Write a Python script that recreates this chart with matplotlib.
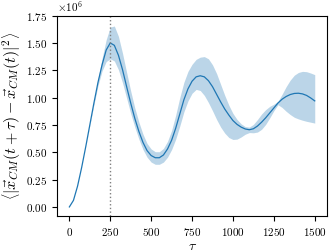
import matplotlib as mpl
mpl.use('Agg')
import matplotlib.pyplot as plt
import numpy as np

# -- Text in Computer Modern, like the LaTeX original.
mpl.rcParams.update({
    "font.family": "serif",
    "font.serif": ["cmr10"],
    "mathtext.fontset": "cm",
    "axes.formatter.use_mathtext": True,
    "axes.unicode_minus": False,
    "font.size": 8,
})

# -- Data (in units of 1e6).
tau = [0, 25, 50, 75, 100, 125, 150, 175, 200, 225, 250, 275, 300, 325, 350,
       375, 400, 425, 450, 475, 500, 525, 550, 575, 600, 625, 650, 675, 700,
       725, 750, 775, 800, 825, 850, 875, 900, 925, 950, 975, 1000, 1025,
       1050, 1075, 1100, 1125, 1150, 1175, 1200, 1225, 1250, 1275, 1300,
       1325, 1350, 1375, 1400, 1425, 1450, 1475, 1500]

msd_mean = [0.00, 0.06, 0.19, 0.36, 0.55, 0.75, 0.95, 1.14, 1.30, 1.435, 1.50,
            1.478, 1.387, 1.255, 1.10, 0.95, 0.81, 0.69, 0.59, 0.515, 0.47,
            0.45, 0.45, 0.475, 0.53, 0.61, 0.72, 0.85, 0.98, 1.08, 1.15, 1.19,
            1.20, 1.19, 1.155, 1.10, 1.03, 0.96, 0.895, 0.84, 0.79, 0.755,
            0.73, 0.713, 0.706, 0.715, 0.74, 0.775, 0.815, 0.86, 0.905, 0.95,
            0.985, 1.01, 1.028, 1.038, 1.04, 1.034, 1.02, 0.997, 0.97]

msd_upper = [0.00, 0.06, 0.19, 0.36, 0.55, 0.755, 0.965, 1.17, 1.36, 1.53,
             1.645, 1.655, 1.56, 1.405, 1.23, 1.06, 0.905, 0.775, 0.665, 0.58,
             0.53, 0.505, 0.505, 0.535, 0.60, 0.70, 0.84, 1.00, 1.14, 1.24,
             1.305, 1.35, 1.37, 1.375, 1.355, 1.30, 1.22, 1.12, 1.02, 0.93,
             0.855, 0.80, 0.76, 0.735, 0.73, 0.755, 0.80, 0.85, 0.89, 0.92,
             0.94, 0.965, 1.03, 1.10, 1.16, 1.205, 1.23, 1.24, 1.237, 1.225,
             1.21]

msd_lower = [0.00, 0.06, 0.19, 0.36, 0.55, 0.745, 0.935, 1.11, 1.245, 1.33,
             1.355, 1.335, 1.255, 1.135, 0.995, 0.855, 0.73, 0.62, 0.525,
             0.455, 0.41, 0.39, 0.39, 0.41, 0.455, 0.525, 0.62, 0.74, 0.87,
             0.97, 1.04, 1.075, 1.065, 1.02, 0.955, 0.88, 0.80, 0.73, 0.675,
             0.635, 0.617, 0.62, 0.64, 0.665, 0.68, 0.678, 0.685, 0.71, 0.755,
             0.815, 0.88, 0.935, 0.91, 0.875, 0.845, 0.82, 0.805, 0.793,
             0.783, 0.775, 0.767]

tau_mark = 250

# -- Plot.
fig = plt.figure(figsize=(3.32, 2.52), dpi=100)
ax = fig.add_axes([0.172, 0.143, 0.813, 0.795])

scale = 1e6
ax.fill_between(tau, np.array(msd_lower)*scale, np.array(msd_upper)*scale,
                color='#1f77b4', alpha=0.3, linewidth=0)
ax.plot(tau, np.array(msd_mean)*scale, color='#1f77b4', linewidth=0.9)
ax.axvline(tau_mark, color='gray', linestyle=':', linewidth=1.0)

ax.set_xticks([0, 250, 500, 750, 1000, 1250, 1500])
ax.set_yticks(np.arange(0, 1.76, 0.25)*scale)

ax.set_xlabel(r"$\tau$", fontsize=10, labelpad=2)
ax.set_ylabel(r"$\left\langle\left|\vec{x}_{CM}(t+\tau)-\vec{x}_{CM}(t)\right|^2\right\rangle$",
              fontsize=11.5, labelpad=2)

plt.savefig("out.png", dpi=100)
